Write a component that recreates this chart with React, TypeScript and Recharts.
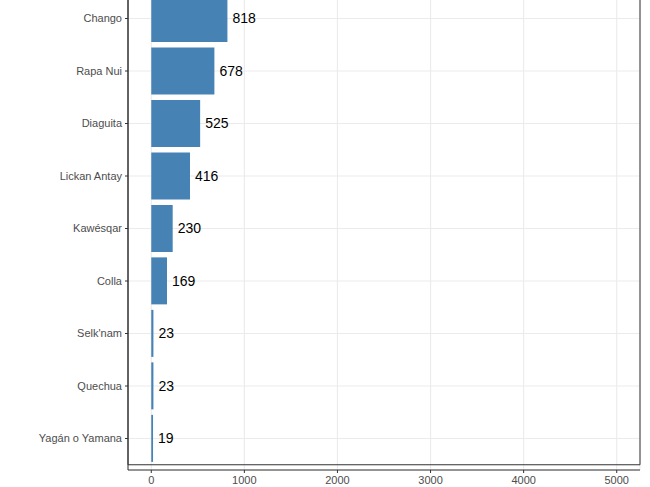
import React from "react"
import {
  BarChart,
  Bar,
  XAxis,
  YAxis,
  CartesianGrid,
  LabelList,
  ReferenceArea,
} from "recharts"

// Pueblos (visible part of the chart, top is cropped)
const pueblos = [
  "Chango",
  "Rapa Nui",
  "Diaguita",
  "Lickan Antay",
  "Kawésqar",
  "Colla",
  "Selk'nam",
  "Quechua",
  "Yagán o Yamana",
]
const personas = [818, 678, 525, 416, 230, 169, 23, 23, 19]
const xTicks = [0, 1000, 2000, 3000, 4000, 5000]
const xMinorTicks = [500, 1500, 2500, 3500, 4500]
const xDomain = [-250, 5250]

const data = pueblos.map((name, i) => ({ name, value: personas[i] }))

const FONT = "'Liberation Sans', Arial, Helvetica, sans-serif"

export default function App() {
  const minorLines = ({ xAxis }: any) => {
    if (!xAxis || typeof xAxis.scale !== "function") return []
    return xMinorTicks.map((v) => xAxis.scale(v))
  }

  return (
    <div
      style={{
        position: "absolute",
        left: 0,
        top: 0,
        width: 650,
        height: 487,
        overflow: "hidden",
        background: "#ffffff",
      }}
    >
      <div style={{ position: "absolute", left: 0, top: -13 }}>
        <BarChart
          width={650}
          height={513}
          data={data}
          layout="vertical"
          margin={{ top: 0, right: 10, bottom: 0, left: 0 }}
          barCategoryGap="5%"
          style={{ fontFamily: FONT }}
        >
          <CartesianGrid
            stroke="#ebebeb"
            strokeWidth={0.6}
            horizontal={false}
            verticalCoordinatesGenerator={minorLines}
          />
          <CartesianGrid stroke="#ebebeb" strokeWidth={1.1} />
          <XAxis
            type="number"
            domain={xDomain}
            ticks={xTicks}
            allowDataOverflow
            height={30}
            tickSize={3}
            tickMargin={3}
            axisLine={{ stroke: "#333333" }}
            tickLine={{ stroke: "#333333" }}
            tick={{ fill: "#4d4d4d", fontSize: 11 }}
          />
          <YAxis
            type="category"
            dataKey="name"
            width={128}
            interval={0}
            padding={{ top: 5.25, bottom: 5.25 }}
            tickSize={3}
            tickMargin={3}
            axisLine={{ stroke: "#333333" }}
            tickLine={{ stroke: "#333333" }}
            tick={{ fill: "#4d4d4d", fontSize: 11 }}
          />
          <Bar dataKey="value" fill="#4682b4" isAnimationActive={false}>
            <LabelList
              dataKey="value"
              position="right"
              offset={5}
              fill="#000000"
              fontSize={14}
            />
          </Bar>
          <ReferenceArea
            x1={xDomain[0]}
            x2={xDomain[1]}
            fill="none"
            stroke="#333333"
            strokeWidth={1}
            ifOverflow="visible"
          />
        </BarChart>
      </div>
    </div>
  )
}
